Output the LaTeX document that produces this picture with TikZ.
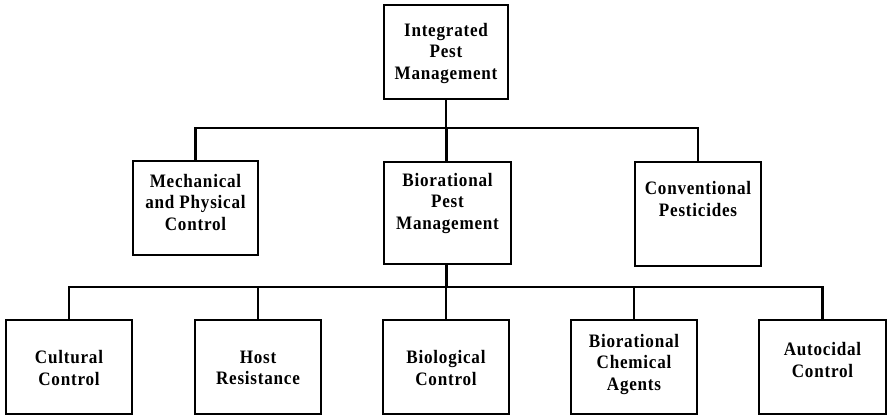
\documentclass[tikz,border=0pt]{standalone}
\usepackage{fontspec}
\setmainfont{Liberation Serif}[FakeStretch=0.9,LetterSpace=4]
\begin{document}
\begin{tikzpicture}[x=1pt,y=-1pt,
  boxnode/.style={draw=black,line width=1.2pt,rectangle,inner sep=0pt},
  lbl/.style={align=center,font=\fontsize{19}{21.5}\selectfont\bfseries,inner sep=0pt},
  conn/.style={line width=2.4pt,line join=miter}]
\useasboundingbox[fill=white] (0,0) rectangle (891,416);
% boxes
\node[boxnode,minimum width=124pt,minimum height=94pt] (ipm) at (446,52) {};
\node[boxnode,minimum width=125pt,minimum height=94pt] (mpc) at (195.5,208) {};
\node[boxnode,minimum width=127pt,minimum height=102pt] (bpm) at (447.5,213) {};
\node[boxnode,minimum width=126pt,minimum height=104pt] (cp) at (698,214) {};
\node[boxnode,minimum width=126pt,minimum height=94pt] (cc) at (69,367) {};
\node[boxnode,minimum width=126pt,minimum height=94pt] (hr) at (258,367) {};
\node[boxnode,minimum width=126pt,minimum height=94pt] (bc) at (446,367) {};
\node[boxnode,minimum width=126pt,minimum height=94pt] (bca) at (634,367) {};
\node[boxnode,minimum width=127pt,minimum height=94pt] (ac) at (822.5,367) {};
% labels
\node[lbl] (ipmt) at (446,53) {Integrated\\Pest\\Management};
\node[lbl] (mpct) at (195.5,202) {Mechanical\\and Physical\\Control};
\node[lbl] (bpmt) at (447.5,203) {Biorational\\Pest\\Management};
\node[lbl] (cpt) at (698,199) {Conventional\\Pesticides};
\node[lbl] (cct) at (69,368) {Cultural\\Control};
\node[lbl] (hrt) at (258,368) {Host\\Resistance};
\node[lbl] (bct) at (446,368) {Biological\\Control};
\node[lbl] (bcat) at (634,364) {Biorational\\Chemical\\Agents};
\node[lbl] (act) at (822.5,360) {Autocidal\\Control};
% connectors
\coordinate (bar1) at (446.5,128);
\coordinate (bar2) at (446.5,287);
\draw[conn] (ipm.south) -- (ipm.south |- bar1);
\draw[conn] (mpc.north) |- (bar1) -| (cp.north);
\draw[conn] (bar1) -- (bar1 |- bpm.north);
\draw[conn] (bpm.south -| bar2) -- (bar2);
\draw[conn] (cc.north) |- (bar2) -| (ac.north);
\draw[conn] (hr.north) -- (hr.north |- bar2);
\draw[conn] (bc.north) -- (bc.north |- bar2);
\draw[conn] (bca.north) -- (bca.north |- bar2);
\end{tikzpicture}
\end{document}
